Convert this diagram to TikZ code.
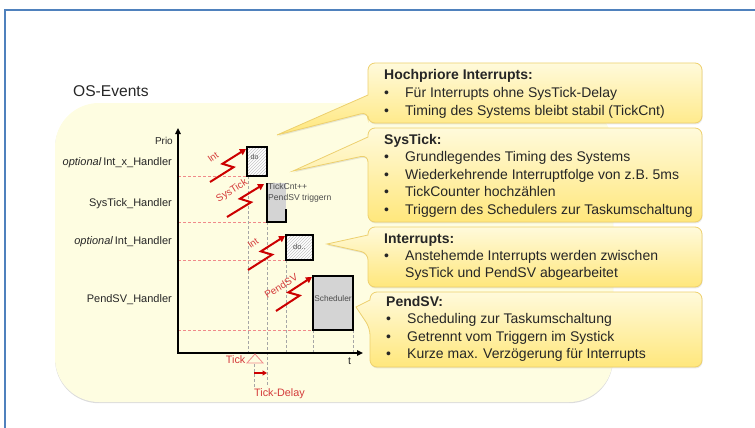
\documentclass[tikz,border=0pt]{standalone}
\usepackage{fontspec}
\setmainfont{Liberation Sans}
\usetikzlibrary{arrows.meta,patterns,shadows,calc}

\definecolor{frameblue}{HTML}{4F81BD}
\definecolor{cream}{HTML}{FEFDE1}
\definecolor{boltred}{HTML}{CC0000}
\definecolor{labelred}{HTML}{D43A3A}
\definecolor{prioline}{HTML}{F08A8A}
\definecolor{guide}{HTML}{A6A6A6}
\definecolor{busy}{HTML}{D4D4D4}
\definecolor{calltop}{HTML}{FFFADB}
\definecolor{callbot}{HTML}{FFE77C}
\definecolor{callrim}{HTML}{EDD06E}
\definecolor{ink}{HTML}{262626}

% zig-zag interrupt symbol from #1 to #2
\newcommand\zap[2]{%
  \draw[boltline] (#1) -- ($(#1)!0.56!(#2)!5pt!-90:(#2)$)
    -- ($(#1)!0.44!(#2)!5pt!90:(#2)$) -- (#2);}

% yellow callout: tip, base top y, base bottom y, x1, y1, x2, y2
\newcommand\callbox[7]{%
  \path[callshape] (#1) -- (#4,#2) [rounded corners=7pt] -- (#4,#5) -- (#6,#5)
    -- (#6,#7) -- (#4,#7) -- (#4,#3) [sharp corners] -- cycle;}

\begin{document}
\begin{tikzpicture}[x=1pt,y=-1pt,
  axis/.style={line width=1.6pt},
  level/.style={prioline,dash pattern=on 3pt off 2pt,line width=0.9pt},
  guideline/.style={guide,dash pattern=on 3pt off 2pt,line width=0.7pt},
  hatched/.style={draw=black,line width=1.4pt,preaction={fill=white},
    pattern=north east lines,pattern color=gray!45},
  busybox/.style={fill=busy,draw=black,line width=1.4pt},
  handler/.style={anchor=base east,inner sep=0pt,text=ink,
    font=\fontsize{11}{13}\selectfont},
  boltline/.style={boltred,line width=2pt,line join=miter,
    -{Triangle[length=6pt,width=6.5pt]}},
  boltlabel/.style={text=labelred,inner sep=0pt,font=\fontsize{10}{12}\selectfont},
  boxtext/.style={inner sep=0pt,text=black!70,font=\fontsize{8.6}{10}\selectfont},
  callshape/.style={draw=callrim,line width=0.8pt,top color=calltop,
    bottom color=callbot,
    drop shadow={shadow xshift=0.6pt,shadow yshift=-1.4pt,opacity=0.18}},
  calltext/.style={anchor=base west,inner sep=0pt,text=ink,
    font=\fontsize{14}{17}\selectfont},
  calltitle/.style={calltext,font=\fontsize{14}{17}\selectfont\bfseries},
]
\useasboundingbox (0,0) rectangle (755,428);

% page frame
\draw[frameblue,line width=1.8pt] (756,10) -- (5,10) -- (5,429);

% background area
\fill[cream,rounded corners=44pt,
  drop shadow={shadow xshift=0pt,shadow yshift=-1.2pt,opacity=0.28}]
  (55,103) rectangle (613,402);
\node[anchor=base west,inner sep=0pt,text=ink,font=\fontsize{15.6}{18}\selectfont]
  (title) at (73,96.5) {OS-Events};

% priority levels
\draw[level] (178,176) -- (247,176);
\draw[level] (178,222) -- (267,222);
\draw[level] (178,260) -- (286,260);
\draw[level] (178,330) -- (313,330);

% time guides
\draw[guideline] (248,176) -- (248,353);
\draw[guideline] (267,222) -- (267,387);
\draw[guideline] (286,260) -- (286,353);
\draw[guideline] (313,330) -- (313,353);
\draw[guideline] (353,330) -- (353,353);
\draw[guideline] (254,364) -- (254,387);

% axes
\coordinate (ytop) at (178,128);
\coordinate (origin) at (178,353);
\coordinate (xend) at (363,353);
\draw[axis,{Triangle[length=6pt,width=5.5pt]}-{Triangle[length=6pt,width=5.5pt]}]
  (ytop) -- (origin) -- (xend);
\node[anchor=base east,inner sep=0pt,text=ink,font=\fontsize{10}{12}\selectfont]
  (prio) at (173,144) {Prio};
\node[anchor=base west,inner sep=0pt,text=ink,font=\fontsize{10.5}{12}\selectfont]
  (tlab) at (348,364) {t};

% handler names
\node[handler] (h1) at (172,165) {\textit{optional}\,Int\_x\_Handler};
\node[handler] (h2) at (172,206) {SysTick\_Handler};
\node[handler] (h3) at (172,244.5) {\textit{optional}\,Int\_Handler};
\node[handler] (h4) at (172,302.5) {PendSV\_Handler};

% execution blocks
\draw[hatched] (247,147) rectangle (267,176);
\node[boxtext,anchor=base west,font=\fontsize{7}{8}\selectfont] (do1) at (250.5,159) {do};

\fill[busy] (267,183) rectangle (286,222);
\draw[black,line width=1.4pt] (267,183) -- (267,222) -- (286,222) -- (286,209);
\node[boxtext,anchor=base west] (tc1) at (268,189.5) {TickCnt++};
\node[boxtext,anchor=base west] (tc2) at (268,200.5) {PendSV triggern};

\draw[hatched] (286,235) rectangle (313,260);
\node[boxtext,anchor=base,font=\fontsize{7.5}{8}\selectfont] (do2) at (299.5,249.5) {do..};

\draw[busybox] (313,276) rectangle (353,330);
\node[boxtext,anchor=base,font=\fontsize{8.3}{10}\selectfont] (sched) at (333,301) {Scheduler};

% interrupt requests
\coordinate (b1s) at (210,182); \coordinate (b1e) at (246,149);
\coordinate (b2s) at (227,217); \coordinate (b2e) at (264,184);
\coordinate (b3s) at (248,270); \coordinate (b3e) at (285,236);
\coordinate (b4s) at (276,311); \coordinate (b4e) at (312,277);
\zap{b1s}{b1e}
\zap{b2s}{b2e}
\zap{b3s}{b3e}
\zap{b4s}{b4e}
\node[boltlabel,rotate=35,font=\fontsize{9.5}{11}\selectfont] (l1) at (213,157) {Int};
\node[boltlabel,rotate=32] (l2) at (232,191) {SysTick};
\node[boltlabel,rotate=35,font=\fontsize{9.5}{11}\selectfont] (l3) at (253,243) {Int};
\node[boltlabel,rotate=32] (l4) at (281,286) {PendSV};

% tick marker and delay
\draw[prioline,line width=0.8pt] (247,363) -- (255,354) -- (263,363) -- cycle;
\node[anchor=base east,inner sep=0pt,text=labelred,font=\fontsize{10.8}{12}\selectfont]
  (tick) at (245.5,363.5) {Tick};
\coordinate (d1) at (254,373); \coordinate (d2) at (267,373);
\draw[boltred,line width=1.6pt,-{Triangle[length=4.5pt,width=5pt]}] (d1) -- (d2);
\node[anchor=base west,inner sep=0pt,text=labelred,font=\fontsize{10.8}{12}\selectfont]
  (delay) at (254,396) {Tick-Delay};

% callouts
\coordinate (p1) at (277,135);
\coordinate (p2) at (293,171);
\coordinate (p3) at (327,244);
\coordinate (p4) at (356,307);
\callbox{p1}{95}{112}{368}{63}{702}{123}
\callbox{p2}{137}{155}{368}{128}{702}{222}
\callbox{p3}{235}{253}{368}{227}{702}{287}
\callbox{p4}{300}{328}{370}{292}{702}{367}

% callout texts
\node[calltitle] (c1t) at (384,80) {Hochpriore Interrupts:};
\node[calltext] (c1a) at (384,97.5) {\makebox[21pt][l]{•}Für Interrupts ohne SysTick-Delay};
\node[calltext] (c1b) at (384,115) {\makebox[21pt][l]{•}Timing des Systems bleibt stabil (TickCnt)};

\node[calltitle] (c2t) at (384,144) {SysTick:};
\node[calltext] (c2a) at (384,161.5) {\makebox[21pt][l]{•}Grundlegendes Timing des Systems};
\node[calltext] (c2b) at (384,179) {\makebox[21pt][l]{•}Wiederkehrende Interruptfolge von z.B. 5ms};
\node[calltext] (c2c) at (384,196.5) {\makebox[21pt][l]{•}TickCounter hochzählen};
\node[calltext] (c2d) at (384,214) {\makebox[21pt][l]{•}Triggern des Schedulers zur Taskumschaltung};

\node[calltitle] (c3t) at (384,243.5) {Interrupts:};
\node[calltext] (c3a) at (384,260.5) {\makebox[21pt][l]{•}Anstehemde Interrupts werden zwischen};
\node[calltext] (c3b) at (405,277) {SysTick und PendSV abgearbeitet};

\node[calltitle] (c4t) at (386,306.5) {PendSV:};
\node[calltext] (c4a) at (386,323.5) {\makebox[21pt][l]{•}Scheduling zur Taskumschaltung};
\node[calltext] (c4b) at (386,341) {\makebox[21pt][l]{•}Getrennt vom Triggern im Systick};
\node[calltext] (c4c) at (386,358) {\makebox[21pt][l]{•}Kurze max. Verzögerung für Interrupts};
\end{tikzpicture}
\end{document}
